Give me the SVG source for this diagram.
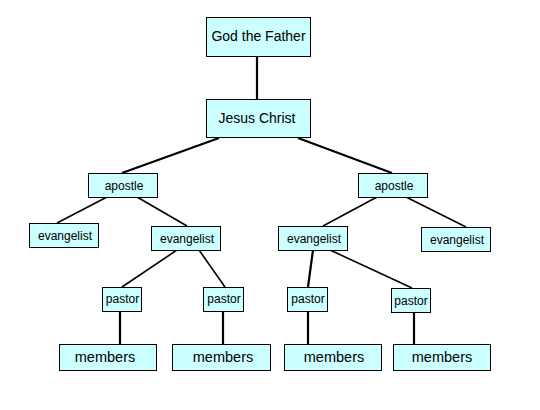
<svg xmlns="http://www.w3.org/2000/svg" width="540" height="410" viewBox="0 0 540 410">
<style>
.box{fill:#ccffff;stroke:#000;stroke-width:1}
.t{font-family:"Liberation Sans",Arial,sans-serif;fill:#000;text-anchor:middle}
.big{font-size:14px}
.sm{font-size:12px}
.mem{font-size:14.5px}
.c{stroke:#000;fill:none}
.thick{stroke-width:2.2}
.thin{stroke-width:1.6}
</style>
<rect width="540" height="410" fill="#fff"/>
<g id="connectors">
<line class="c thick" x1="257" y1="56" x2="257" y2="99"/>
<line class="c thick" x1="219" y1="138" x2="122" y2="173"/>
<line class="c thick" x1="298" y1="138" x2="392" y2="173"/>
<line class="c thin" x1="107" y1="197" x2="57" y2="223"/>
<line class="c thin" x1="137" y1="197" x2="187" y2="226"/>
<line class="c thin" x1="377" y1="197" x2="323" y2="226"/>
<line class="c thin" x1="406" y1="197" x2="466" y2="227"/>
<line class="c thin" x1="177" y1="250" x2="122" y2="287"/>
<line class="c thin" x1="199" y1="250" x2="225" y2="287"/>
<line class="c thick" x1="313" y1="250" x2="308" y2="287"/>
<line class="c thin" x1="330" y1="250" x2="412" y2="288"/>
<line class="c thick" x1="120" y1="311" x2="120" y2="344"/>
<line class="c thick" x1="223" y1="311" x2="223" y2="344"/>
<line class="c thick" x1="308" y1="311" x2="308" y2="344"/>
<line class="c thick" x1="414" y1="312" x2="414" y2="344"/>
</g>
<g id="god"><rect class="box" x="206.5" y="17.5" width="104" height="39"/><text class="t big" x="258.5" y="41">God the Father</text></g>
<g id="jesus"><rect class="box" x="206.5" y="99.5" width="104" height="38"/><text class="t big" x="257" y="123">Jesus Christ</text></g>
<g id="apostle1"><rect class="box" x="88.5" y="173.5" width="69" height="24"/><text class="t sm" x="124" y="189.5">apostle</text></g>
<g id="apostle2"><rect class="box" x="358.5" y="173.5" width="69" height="24"/><text class="t sm" x="394" y="189.5">apostle</text></g>
<g id="evangelist1"><rect class="box" x="29.5" y="223.5" width="69" height="24"/><text class="t sm" x="65" y="239.5">evangelist</text></g>
<g id="evangelist2"><rect class="box" x="151.5" y="226.5" width="69" height="24"/><text class="t sm" x="187" y="242.5">evangelist</text></g>
<g id="evangelist3"><rect class="box" x="278.5" y="226.5" width="69" height="24"/><text class="t sm" x="314" y="242.5">evangelist</text></g>
<g id="evangelist4"><rect class="box" x="421.5" y="227.5" width="69" height="24"/><text class="t sm" x="457" y="243.5">evangelist</text></g>
<g id="pastor1"><rect class="box" x="102.5" y="287.5" width="39" height="24"/><text class="t sm" x="122.5" y="303">pastor</text></g>
<g id="pastor2"><rect class="box" x="203.5" y="287.5" width="40" height="24"/><text class="t sm" x="224" y="303">pastor</text></g>
<g id="pastor3"><rect class="box" x="287.5" y="287.5" width="40" height="24"/><text class="t sm" x="308" y="303">pastor</text></g>
<g id="pastor4"><rect class="box" x="391.5" y="288.5" width="39" height="24"/><text class="t sm" x="411" y="304.5">pastor</text></g>
<g id="members1"><rect class="box" x="59.5" y="344.5" width="97" height="26"/><text class="t mem" x="105" y="362">members</text></g>
<g id="members2"><rect class="box" x="172.5" y="344.5" width="98" height="26"/><text class="t mem" x="223" y="361.5">members</text></g>
<g id="members3"><rect class="box" x="284.5" y="344.5" width="97" height="26"/><text class="t mem" x="334" y="361.5">members</text></g>
<g id="members4"><rect class="box" x="393.5" y="344.5" width="97" height="26"/><text class="t mem" x="442" y="361.5">members</text></g>
</svg>
